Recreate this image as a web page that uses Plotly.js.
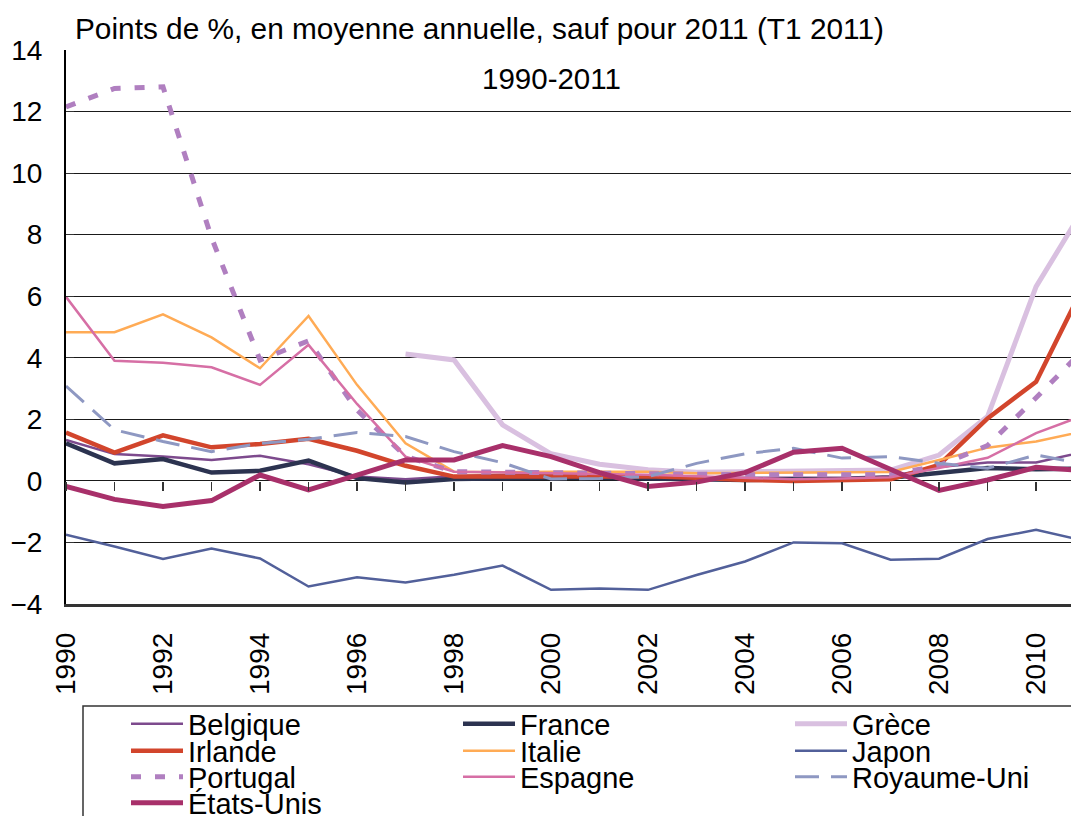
<!DOCTYPE html>
<html>
<head>
<meta charset="utf-8">
<script src="https://cdn.plot.ly/plotly-3.0.1.min.js"></script>
<style>html,body{margin:0;padding:0;background:#fff;}#chart{width:1071px;height:816px;}</style>
</head>
<body>
<div id="chart"></div>
<script>
const years = [1990,1991,1992,1993,1994,1995,1996,1997,1998,1999,2000,2001,2002,2003,2004,2005,2006,2007,2008,2009,2010,2011];

const belgique   = [1.33,0.87,0.79,0.68,0.82,0.54,0.14,0.05,0.15,0.2,0.2,0.2,0.15,0.1,0.1,0.1,0.1,0.15,0.45,0.6,0.6,0.95];
const france     = [1.22,0.57,0.71,0.27,0.33,0.66,0.09,-0.05,0.06,0.09,0.1,0.1,0.08,0.05,0.03,0.05,0.05,0.1,0.27,0.42,0.38,0.4];
const grece      = [null,null,null,null,null,null,null,4.12,3.93,1.82,0.88,0.54,0.36,0.28,0.3,0.32,0.35,0.35,0.84,2.09,6.31,8.9];
const irlande    = [1.57,0.92,1.48,1.09,1.2,1.37,0.98,0.49,0.14,0.15,0.15,0.17,0.15,0.1,0.03,0.0,0.02,0.05,0.52,2.03,3.22,6.4];
const italie     = [4.83,4.83,5.41,4.66,3.66,5.36,3.12,1.22,0.3,0.28,0.3,0.3,0.3,0.25,0.26,0.26,0.29,0.29,0.68,1.08,1.28,1.62];
const japon      = [-1.75,-2.13,-2.54,-2.2,-2.52,-3.43,-3.13,-3.3,-3.05,-2.75,-3.54,-3.5,-3.54,-3.06,-2.62,-2.0,-2.03,-2.56,-2.53,-1.89,-1.59,-1.95];
const portugal   = [12.15,12.75,12.8,7.9,3.93,4.55,2.3,0.8,0.3,0.28,0.25,0.25,0.25,0.2,0.2,0.2,0.2,0.2,0.5,1.15,2.7,4.3];
const espagne    = [5.98,3.9,3.84,3.69,3.12,4.42,2.5,0.79,0.3,0.28,0.25,0.22,0.2,0.15,0.1,0.05,0.08,0.12,0.42,0.75,1.55,2.14];
const royaumeUni = [3.08,1.66,1.28,0.95,1.22,1.35,1.57,1.44,0.95,0.59,0.06,0.08,0.14,0.57,0.88,1.06,0.74,0.79,0.57,0.41,0.84,0.55];
const etatsUnis  = [-0.18,-0.6,-0.83,-0.64,0.19,-0.29,0.19,0.68,0.68,1.15,0.79,0.27,-0.18,-0.04,0.27,0.93,1.06,0.38,-0.31,0.03,0.44,0.33];

const titleText = "Points de %, en moyenne annuelle, sauf pour 2011 (T1 2011)";
const periodText = "1990-2011";

const FONT = "Liberation Sans, Arial, sans-serif";

function tr(name, y, color, width, dash, legend) {
  return {
    type: 'scatter', mode: 'lines', name: name, x: years, y: y,
    line: {color: color, width: width, dash: dash || 'solid'},
    legend: legend, connectgaps: false, hoverinfo: 'skip'
  };
}

const traces = [
  tr('Belgique', belgique, '#7d4a8d', 2.5, null, 'legend'),
  tr('France', france, '#2c3350', 4.5, null, 'legend'),
  tr('Grèce', grece, '#d9c0e0', 5, null, 'legend'),
  tr('Irlande', irlande, '#d2452c', 4.5, null, 'legend2'),
  tr('Italie', italie, '#ffab55', 2.5, null, 'legend2'),
  tr('Japon', japon, '#52609a', 2.5, null, 'legend2'),
  tr('Portugal', portugal, '#b07fc0', 5, '10px,14px', 'legend3'),
  tr('Espagne', espagne, '#d66fa5', 2.5, null, 'legend3'),
  tr('Royaume-Uni', royaumeUni, '#8e98c2', 3, '24px,12px', 'legend3'),
  tr('États-Unis', etatsUnis, '#a8306a', 5, null, 'legend4'),
  // empty helper trace so the zero-line tick axis (x2) is drawn
  {type: 'scatter', mode: 'lines', x: [], y: [], xaxis: 'x2', yaxis: 'y', showlegend: false, hoverinfo: 'skip'}
];

// plot area: x 66..1071, y 50..604
function px2paperX(px) { return (px - 66) / 1005; }
function px2paperY(py) { return (604 - py) / 554; }

function legendAt(rowCenter) {
  return {
    x: px2paperX(126), xanchor: 'left',
    y: px2paperY(rowCenter), yanchor: 'middle',
    orientation: 'h', entrywidth: 265, entrywidthmode: 'pixels', itemwidth: 52,
    font: {family: FONT, size: 29, color: '#000'},
    bgcolor: 'rgba(0,0,0,0)', borderwidth: 0, traceorder: 'normal'
  };
}

const layout = {
  width: 1071, height: 816,
  margin: {l: 66, r: 0, t: 50, b: 212, autoexpand: false},
  paper_bgcolor: '#fff', plot_bgcolor: '#fff',
  font: {family: FONT, size: 28, color: '#000'},
  title: {text: titleText, x: 75/1071, xref: 'container', xanchor: 'left',
          y: 1 - 29/816, yref: 'container', yanchor: 'middle',
          font: {family: FONT, size: 29.8, color: '#000'}},
  xaxis: {
    range: [1990, 2010.72], tick0: 1990, dtick: 2, tickangle: -90,
    showgrid: false, zeroline: false, ticks: '', ticklabelstandoff: 15,
    showline: true, linecolor: '#333', linewidth: 2.5,
    tickfont: {family: FONT, size: 28, color: '#000'}, fixedrange: true
  },
  xaxis2: {
    overlaying: 'x', anchor: 'free', position: 4/18, side: 'bottom',
    range: [1990, 2010.72], tick0: 1990, dtick: 1,
    ticks: 'outside', ticklen: 9, tickwidth: 1.2, tickcolor: '#333',
    showticklabels: false, showgrid: false, zeroline: false, showline: false
  },
  yaxis: {
    range: [-4, 14], dtick: 2, tick0: 0,
    showgrid: true, gridcolor: '#1a1a1a', gridwidth: 1,
    zeroline: true, zerolinecolor: '#1a1a1a', zerolinewidth: 1,
    showline: true, linecolor: '#000', linewidth: 2,
    ticks: 'inside', ticklen: 8, tickcolor: '#333', ticklabelstandoff: 16,
    tickfont: {family: FONT, size: 28, color: '#000'}, fixedrange: true
  },
  legend: legendAt(724),
  legend2: legendAt(751),
  legend3: legendAt(777),
  legend4: legendAt(803),
  shapes: [{
    type: 'rect', xref: 'paper', yref: 'paper',
    x0: px2paperX(83), x1: px2paperX(1100),
    y0: px2paperY(706), y1: px2paperY(880),
    line: {color: '#333', width: 1.5}, fillcolor: 'rgba(0,0,0,0)', layer: 'below'
  }],
  annotations: [{
    text: periodText, xref: 'paper', yref: 'paper',
    x: px2paperX(551), y: px2paperY(78), xanchor: 'center', yanchor: 'middle',
    showarrow: false, font: {family: FONT, size: 29.5, color: '#000'}
  }],
  showlegend: true
};

Plotly.newPlot('chart', traces, layout, {displayModeBar: false, staticPlot: true});
</script>
</body>
</html>
